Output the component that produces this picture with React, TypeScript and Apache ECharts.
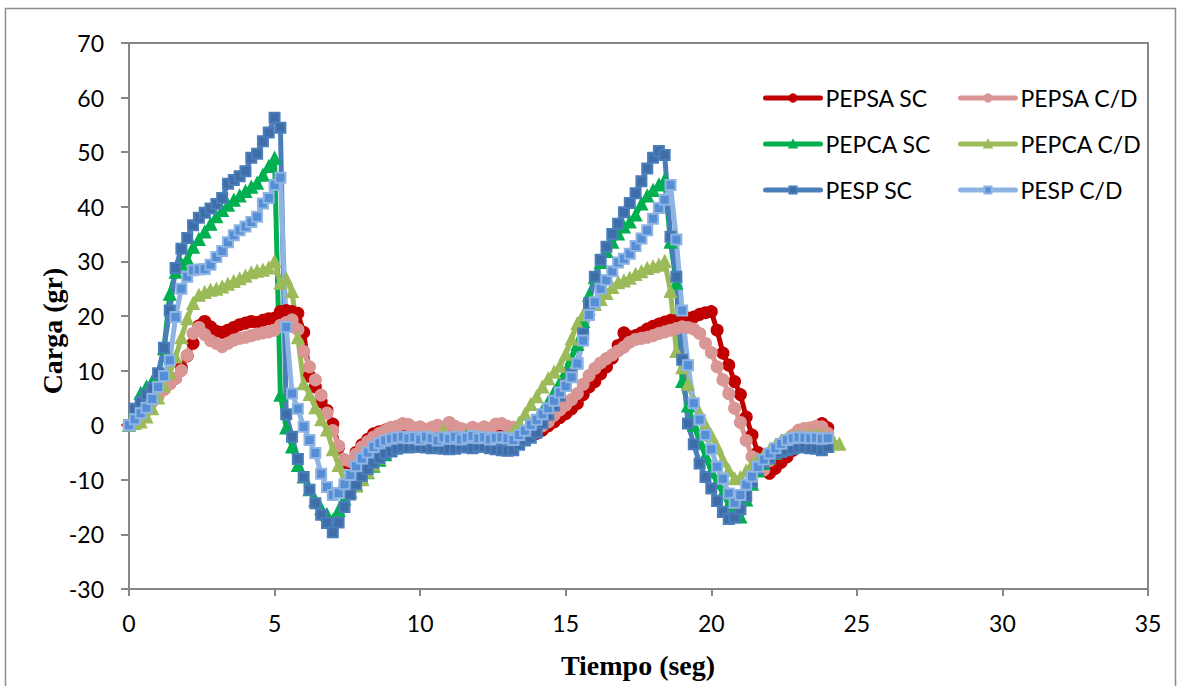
import { useEffect, useRef } from "react";
import * as echarts from "echarts";

// Time (s)
const timeSec = [
  0, 0.2, 0.4, 0.6, 0.8, 1.0, 1.2, 1.4, 1.6, 1.8,
  2.0, 2.2, 2.4, 2.6, 2.8, 3.0, 3.2, 3.4, 3.6, 3.8,
  4.0, 4.2, 4.4, 4.6, 4.8, 5.0, 5.2, 5.4, 5.6, 5.8,
  6.0, 6.2, 6.4, 6.6, 6.8, 7.0, 7.2, 7.4, 7.6, 7.8,
  8.0, 8.2, 8.4, 8.6, 8.8, 9.0, 9.2, 9.4, 9.6, 9.8,
  10.0, 10.2, 10.4, 10.6, 10.8, 11.0, 11.2, 11.4, 11.6, 11.8,
  12.0, 12.2, 12.4, 12.6, 12.8, 13.0, 13.2, 13.4, 13.6, 13.8,
  14.0, 14.2, 14.4, 14.6, 14.8, 15.0, 15.2, 15.4, 15.6, 15.8,
  16.0, 16.2, 16.4, 16.6, 16.8, 17.0, 17.2, 17.4, 17.6, 17.8,
  18.0, 18.2, 18.4, 18.6, 18.8, 19.0, 19.2, 19.4, 19.6, 19.8,
  20.0, 20.2, 20.4, 20.6, 20.8, 21.0, 21.2, 21.4, 21.6, 21.8,
  22.0, 22.2, 22.4, 22.6, 22.8, 23.0, 23.2, 23.4, 23.6, 23.8,
  24.0, 24.2, 24.4,
];

const pepsaSC = [
  0, 1.5, 2.5, 3.5, 4.6, 5.6, 6.6, 7.6, 8.6, 10.5,
  12.7, 15.0, 18.2, 19.0, 18.0, 17.2, 17.0, 17.4, 17.9, 18.4,
  18.7, 19.0, 18.8, 19.2, 19.5, 19.6, 20.8, 21.0, 20.8, 20.5,
  17.0, 9.0, 7.0, 4.3, 2.7, 0.2, -4.0, -6.8, -7.0, -5.0,
  -3.6, -2.6, -1.6, -1.2, -0.9, -1.0, -1.2, -1.4, -1.1, -1.3,
  -1.5, -1.2, -1.4, -1.6, -1.3, -1.1, -1.4, -1.6, -1.3, -1.5,
  -1.2, -1.4, -1.3, -1.1, -1.0, -0.8, -0.9, -1.6, -1.9, -1.8,
  -1.5, -0.9, -0.1, 0.6, 1.4, 2.1, 3.0, 4.0, 5.6, 7.0,
  8.0, 9.4, 10.7, 12.3, 14.6, 16.9, 16.2, 16.4, 16.9, 17.6,
  18.1, 18.5, 18.9, 19.2, 19.1, 19.3, 19.6, 19.8, 20.3, 20.6,
  20.8, 17.4, 13.2, 11.0, 8.0, 5.6, 1.5, -1.8, -5.0, -8.2,
  -8.8, -7.9, -6.8, -5.8, -4.6, -3.5, -2.7, -1.9, -1.2, 0.3,
  -0.5,
];

const pepsaCD = [
  0, 1.2, 2.2, 3.3, 4.3, 5.3, 6.5, 7.6, 8.6, 10.0,
  12.8, 16.8, 17.9, 16.6, 15.5, 15.0, 14.4, 15.0, 15.6, 15.9,
  16.1, 16.4, 16.7, 16.9, 17.1, 17.4, 18.3, 18.8, 19.3, 17.5,
  13.5, 10.7, 8.3, 5.5, 2.2, -1.0, -3.8, -6.3, -6.6, -5.3,
  -4.0, -3.0, -2.2, -1.5, -1.0, -0.4, -0.2, 0.3, 0.1, -0.5,
  -0.3, -0.8, -0.4, 0.0, -0.6, 0.5, -0.2, -0.6, -0.9, -0.4,
  -0.7, -0.3, -0.6, 0.2, 0.3, -0.2, -0.4, -1.0, -1.2, -1.4,
  -0.9, -0.1, 0.6, 1.8, 2.8, 3.7, 4.7, 5.8, 7.5, 9.1,
  10.4, 11.4, 12.2, 12.9, 13.6, 14.3, 15.2, 15.7, 15.9, 16.1,
  16.4, 16.8, 17.1, 17.4, 17.7, 18.0, 17.9, 17.6, 16.8, 15.0,
  13.3, 10.7, 8.3, 5.8, 3.1, 0.5, -2.8, -5.8, -7.7, -8.2,
  -6.5, -4.6, -3.4, -2.7, -1.8, -0.9, -0.6, -0.5, -0.2, -0.3,
  -1.5,
];

const pepcaSC = [
  0, 2.8, 5.8, 7.0, 8.0, 9.0, 14.0, 24.0, 28.0, 29.5,
  30.4, 32.6, 34.0, 35.4, 36.8, 38.2, 39.3, 40.3, 41.2, 42.0,
  42.8, 43.6, 44.3, 45.8, 47.4, 48.9, 5.5, -0.5, -4.0, -7.4,
  -9.5, -11.8, -13.8, -15.3, -16.4, -17.5, -15.6, -13.5, -12.2, -10.9,
  -9.8, -8.7, -7.5, -6.4, -5.4, -4.6, -4.0, -3.7, -3.5, -3.6,
  -3.3, -3.6, -3.4, -3.7, -3.5, -3.2, -3.6, -3.4, -2.0, -3.6,
  -3.4, -3.7, -3.5, -3.8, -3.9, -3.7, -3.2, -2.5, -1.6, -0.4,
  1.0, 2.6, 4.2, 6.0, 7.8, 9.8, 12.2, 14.8, 19.0, 23.8,
  27.0, 29.8, 31.8, 33.5, 35.0, 36.3, 37.2, 38.5, 40.5, 42.0,
  43.0, 44.0, 44.9, 33.5, 26.0, 8.0, 3.5, 0.0, -3.0, -5.6,
  -8.5, -10.5, -12.5, -14.6, -16.3, -16.8, -13.7, -10.8, -8.4, -7.0,
  -6.0, -5.2, -4.6, -4.2, -4.0, -3.8, -3.7, -3.6, -3.8, -3.9,
  -3.8,
];

const pepcaCD = [
  0, 0.3, 0.6, 1.5, 3.0, 5.0, 7.2, 9.5, 12.5, 16.0,
  19.5, 22.3, 23.8, 24.3, 24.7, 24.9, 25.3, 25.8, 26.3, 26.8,
  27.3, 27.9, 28.2, 28.4, 28.8, 30.0, 26.0, 26.8, 24.5, 16.0,
  7.6, 5.6, 3.2, 1.0, -0.9, -4.5, -7.4, -10.3, -12.2, -11.2,
  -10.0, -8.6, -7.3, -6.0, -5.0, -4.2, -3.6, -3.2, -3.0, -3.3,
  -3.0, -2.8, -3.2, -3.0, -1.0, -2.9, -3.1, -2.8, -3.0, -3.2,
  -2.9, -3.0, -3.1, -2.8, -2.6, -2.2, -1.2, 0.4, 2.0, 3.8,
  5.2, 7.0, 8.5, 9.7, 10.8, 13.0, 15.8, 18.6, 20.2, 21.3,
  22.1, 23.0, 24.1, 25.2, 26.1, 26.4, 26.9, 27.6, 28.1, 28.7,
  29.0, 29.3, 30.0, 24.5, 13.5, 10.5, 7.5, 4.5, 2.2, 0.0,
  -1.9, -4.0, -6.4, -8.3, -9.8, -9.6, -8.4, -7.2, -6.3, -5.5,
  -4.6, -3.7, -2.9, -2.5, -2.3, -2.2, -2.0, -1.9, -1.8, -1.9,
  -2.4, -3.0, -3.5,
];

const pespSC = [
  0, 3.0, 4.2, 5.6, 6.8, 9.5, 14.2, 21.0, 28.8, 32.3,
  34.3, 36.6, 38.0, 38.9, 39.7, 40.5, 41.6, 44.2, 44.9, 45.6,
  46.5, 49.0, 49.7, 52.0, 53.6, 56.3, 54.5, 2.0, -2.1, -6.2,
  -9.5, -11.8, -14.3, -16.4, -17.9, -19.6, -17.8, -15.0, -12.7, -10.8,
  -9.3, -8.0, -6.9, -6.0, -5.2, -4.8, -4.3, -4.0, -4.1, -3.9,
  -4.0, -4.1, -4.2, -4.0, -4.3, -4.4, -4.3, -4.1, -4.0, -4.2,
  -3.9, -4.0, -4.2, -4.4, -4.6, -4.7, -4.6, -3.6, -2.8, -2.3,
  -1.4, 0.4, 1.9, 3.6, 5.4, 7.3, 9.3, 11.3, 16.8, 22.3,
  27.2, 30.3, 32.7, 35.0, 36.9, 39.0, 40.7, 42.5, 44.7, 47.0,
  49.0, 50.2, 49.5, 34.5, 27.2, 12.0, 0.3, -3.5, -7.0, -9.5,
  -11.6, -13.9, -15.9, -17.2, -16.9, -15.4, -13.0, -10.3, -8.0, -6.8,
  -6.0, -5.2, -4.9, -4.6, -4.3, -4.0, -4.1, -4.2, -4.3, -4.6,
  -4.0,
];

const pespCD = [
  0, 1.1, 2.2, 3.2, 4.8, 7.0, 9.0, 11.9, 19.8, 25.0,
  27.2, 28.4, 28.5, 28.6, 29.4, 30.8, 31.9, 33.5, 34.8, 35.7,
  36.4, 37.2, 38.2, 40.6, 41.6, 44.0, 45.3, 18.0, 5.8, 3.0,
  -0.3, -2.7, -5.1, -8.9, -11.3, -12.8, -12.4, -10.8, -9.1, -7.5,
  -6.1, -5.0, -4.0, -3.3, -2.8, -2.5, -2.3, -2.1, -2.4, -2.2,
  -2.6, -2.1, -2.4, -2.8, -2.2, -2.5, -2.1, -2.6, -2.3, -2.0,
  -2.4, -2.2, -2.6, -2.3, -2.2, -2.4, -2.7, -1.8, -1.0, 0.1,
  1.0, 2.0, 3.1, 4.5, 6.0, 7.2, 8.8, 11.3, 15.5, 20.2,
  22.5, 25.0, 26.6, 28.2, 29.8, 30.5, 31.4, 32.8, 34.2, 35.7,
  37.8, 39.8, 41.3, 44.0, 34.0, 21.0, 11.0, 4.0, 1.0, -1.8,
  -4.4, -7.6, -9.8, -12.5, -14.2, -12.8, -10.9, -9.4, -7.6, -6.3,
  -5.2, -4.2, -3.4, -2.7, -2.4, -2.2, -2.3, -2.4, -2.3, -2.5,
  -2.4,
];

const xTicks = { min: 0, max: 35, interval: 5 };
const yTicks = { min: -30, max: 70, interval: 10 };

const legendCol1 = ["PEPSA SC", "PEPCA SC", "PESP SC"];
const legendCol2 = ["PEPSA C/D", "PEPCA C/D", "PESP C/D"];

const TICK_FONT = "Lato";

function zip(values: number[]) {
  const out: [number, number][] = [];
  for (let i = 0; i < values.length && i < timeSec.length; i++) {
    out.push([timeSec[i], values[i]]);
  }
  return out;
}

export default function App() {
  const ref = useRef<HTMLDivElement>(null);

  useEffect(() => {
    if (!ref.current) return;
    const chart = echarts.init(ref.current, null, { renderer: "svg" });

    const mk = (
      name: string,
      values: number[],
      lineColor: string,
      markerColor: string,
      markerBorder: string,
      symbol: string,
      size: number
    ) => ({
      name,
      type: "line",
      data: zip(values),
      symbol,
      symbolSize: size,
      showSymbol: true,
      lineStyle: { color: lineColor, width: 5, cap: "round", join: "round" },
      itemStyle: { color: markerColor, borderColor: markerBorder, borderWidth: 2 },
      emphasis: { disabled: true },
      z: 2,
    });

    const series = [
      mk("PEPSA SC", pepsaSC, "#C00000", "#C00000", "#C00000", "circle", 11),
      mk("PEPSA C/D", pepsaCD, "#D99694", "#D99694", "#D99694", "circle", 11),
      mk("PEPCA SC", pepcaSC, "#00B050", "#00B050", "#00B050", "triangle", 11),
      mk("PEPCA C/D", pepcaCD, "#9BBB59", "#9BBB59", "#9BBB59", "triangle", 11),
      mk("PESP SC", pespSC, "#4A7EBB", "#3E6DA8", "#4A7EBB", "rect", 10),
      mk("PESP C/D", pespCD, "#8EB4E3", "#558ED5", "#8EB4E3", "rect", 10),
    ];

    const legendBase = {
      orient: "vertical",
      itemWidth: 55,
      itemHeight: 9,
      itemGap: 22,
      lineStyle: { width: 5, cap: "round" },
      textStyle: {
        fontFamily: TICK_FONT,
        fontSize: 23,
        color: "#000",
        lineHeight: 24,
      },
      selectedMode: false,
    };

    chart.setOption({
      animation: false,
      backgroundColor: "#ffffff",
      grid: {
        left: 129,
        top: 43,
        right: 30,
        bottom: 97,
        show: true,
        borderColor: "#868686",
        borderWidth: 2,
        containLabel: false,
      },
      xAxis: {
        type: "value",
        min: xTicks.min,
        max: xTicks.max,
        interval: xTicks.interval,
        axisLine: { show: true, onZero: false, lineStyle: { color: "#868686", width: 2 } },
        axisTick: { show: true, inside: false, length: 7, lineStyle: { color: "#868686", width: 2 } },
        splitLine: { show: false },
        axisLabel: {
          margin: 23,
          fontFamily: TICK_FONT,
          fontSize: 23,
          color: "#000",
          lineHeight: 22,
        },
      },
      yAxis: {
        type: "value",
        min: yTicks.min,
        max: yTicks.max,
        interval: yTicks.interval,
        axisLine: { show: true, onZero: false, lineStyle: { color: "#868686", width: 2 } },
        axisTick: { show: true, inside: false, length: 8, lineStyle: { color: "#868686", width: 2 } },
        splitLine: { show: false },
        axisLabel: {
          margin: 25,
          fontFamily: TICK_FONT,
          fontSize: 23,
          color: "#000",
        },
      },
      legend: [
        { ...legendBase, left: 758, top: 81, data: legendCol1 },
        { ...legendBase, left: 953, top: 81, data: legendCol2 },
      ],
      graphic: [
        {
          type: "rect",
          silent: true,
          shape: { x: 5.5, y: 8.5, width: 1170, height: 700 },
          style: { fill: "none", stroke: "#8c8c8c", lineWidth: 1.5 },
          z: 0,
        },
        {
          type: "text",
          x: 638,
          y: 665,
          silent: true,
          style: {
            text: "Tiempo (seg)",
            fontFamily: "Liberation Serif",
            fontWeight: "bold",
            fontSize: 28,
            fill: "#000",
            textAlign: "center",
            textVerticalAlign: "middle",
          },
        },
        {
          type: "text",
          x: 52,
          y: 331,
          rotation: Math.PI / 2,
          silent: true,
          style: {
            text: "Carga (gr)",
            fontFamily: "Liberation Serif",
            fontWeight: "bold",
            fontSize: 28,
            fill: "#000",
            textAlign: "center",
            textVerticalAlign: "middle",
          },
        },
      ],
      series,
    });

    return () => chart.dispose();
  }, []);

  return (
    <div
      ref={ref}
      style={{
        position: "absolute",
        left: 0,
        top: 0,
        width: 1178,
        height: 686,
        background: "#ffffff",
      }}
    />
  );
}
